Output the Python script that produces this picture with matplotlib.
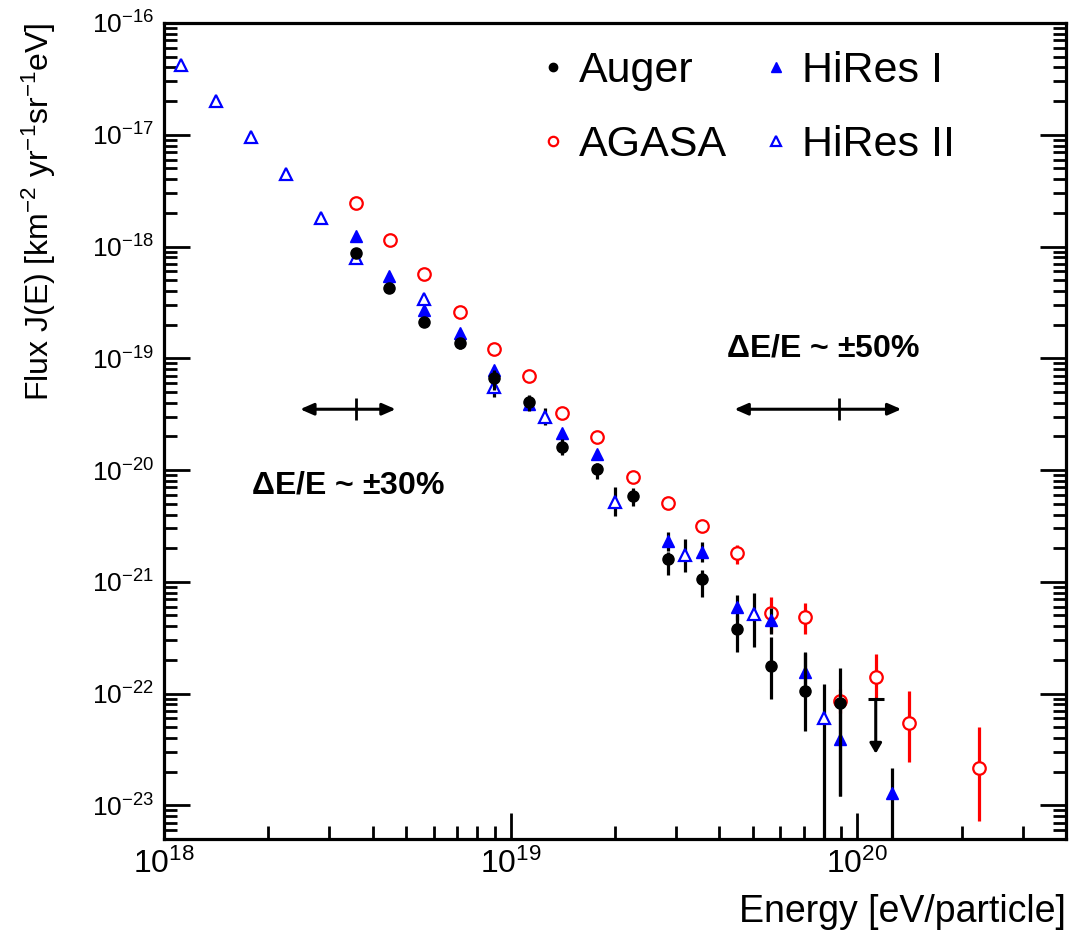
import numpy as np
import matplotlib
matplotlib.use('Agg')
import matplotlib.pyplot as plt
from matplotlib.ticker import FixedLocator, LogLocator, NullFormatter

plt.rcParams['font.family'] = ['Liberation Sans', 'DejaVu Sans']
plt.rcParams['mathtext.default'] = 'regular'
plt.rcParams['axes.unicode_minus'] = False

# --- data (E in eV, flux J and error-bar bounds) ---
auger_E = [3.57e18, 4.47e18, 5.63e18, 7.12e18, 8.94e18, 1.13e19, 1.41e19, 1.78e19,
           2.25e19, 2.84e19, 3.57e19, 4.50e19, 5.64e19, 7.08e19, 8.93e19]
auger_J = [8.7e-19, 4.25e-19, 2.1e-19, 1.36e-19, 6.6e-20, 4.05e-20, 1.6e-20, 1.02e-20,
           5.8e-21, 1.6e-21, 1.05e-21, 3.8e-22, 1.75e-22, 1.05e-22, 8.3e-23]
auger_lo = [8.0e-19, 3.9e-19, 1.9e-19, 1.22e-19, 5.2e-20, 3.4e-20, 1.35e-20, 8.3e-21,
            4.8e-21, 1.15e-21, 7.3e-22, 2.35e-22, 8.9e-23, 4.6e-23, 1.2e-23]
auger_hi = [9.5e-19, 4.6e-19, 2.3e-19, 1.5e-19, 7.8e-20, 4.7e-20, 1.9e-20, 1.15e-20,
            6.9e-21, 1.85e-21, 1.27e-21, 5.0e-22, 3.2e-22, 2.3e-22, 1.7e-22]
auger_ul_E = 1.13e20
auger_ul_J = 8.9e-23
auger_ul_tip = 2.9e-23

agasa_E = [3.57e18, 4.50e18, 5.63e18, 7.12e18, 8.97e18, 1.13e19, 1.41e19, 1.78e19, 2.25e19,
           2.84e19, 3.57e19, 4.50e19, 5.64e19, 7.08e19, 8.93e19, 1.13e20, 1.41e20, 2.25e20]
agasa_J = [2.45e-18, 1.14e-18, 5.66e-19, 2.59e-19, 1.21e-19, 6.91e-20, 3.22e-20, 1.97e-20, 8.62e-21,
           5.05e-21, 3.14e-21, 1.80e-21, 5.22e-22, 4.81e-22, 8.5e-23, 1.40e-22, 5.41e-23, 2.18e-23]
agasa_lo = [2.35e-18, 1.09e-18, 5.4e-19, 2.47e-19, 1.15e-19, 6.5e-20, 3.0e-20, 1.83e-20, 7.9e-21,
            4.5e-21, 2.8e-21, 1.44e-21, 3.46e-22, 3.39e-22, 6.7e-23, 9.2e-23, 2.42e-23, 7.3e-24]
agasa_hi = [2.55e-18, 1.19e-18, 5.9e-19, 2.71e-19, 1.27e-19, 7.3e-20, 3.45e-20, 2.1e-20, 9.4e-21,
            5.6e-21, 3.5e-21, 2.12e-21, 7.3e-22, 6.4e-22, 1.1e-22, 2.24e-22, 1.05e-22, 4.98e-23]

hires1_E = [3.57e18, 4.47e18, 5.63e18, 7.12e18, 8.94e18, 1.13e19, 1.41e19, 1.78e19,
            2.84e19, 3.57e19, 4.50e19, 5.64e19, 7.08e19, 8.93e19, 1.26e20]
hires1_J = [1.24e-18, 5.43e-19, 2.70e-19, 1.68e-19, 7.82e-20, 3.9e-20, 2.13e-20, 1.38e-20,
            2.31e-21, 1.84e-21, 5.91e-22, 4.52e-22, 1.55e-22, 3.89e-23, 1.30e-23]
hires1_lo = [1.18e-18, 5.1e-19, 2.55e-19, 1.58e-19, 7.3e-20, 3.6e-20, 1.95e-20, 1.25e-20,
             1.9e-21, 1.5e-21, 4.6e-22, 3.4e-22, 1.0e-22, 1.2e-23, 1e-25]
hires1_hi = [1.30e-18, 5.75e-19, 2.85e-19, 1.78e-19, 8.4e-20, 4.2e-20, 2.3e-20, 1.5e-20,
             2.8e-21, 2.26e-21, 7.6e-22, 5.8e-22, 2.34e-22, 8.0e-23, 2.18e-23]

hires2_E = [1.12e18, 1.41e18, 1.78e18, 2.25e18, 2.84e18, 3.57e18, 5.63e18, 8.94e18,
            1.26e19, 2.00e19, 3.18e19, 5.04e19, 8.03e19]
hires2_J = [4.21e-17, 2.00e-17, 9.54e-18, 4.45e-18, 1.80e-18, 7.87e-19, 3.38e-19, 5.51e-20,
            2.97e-20, 5.15e-21, 1.73e-21, 5.11e-22, 6.0e-23]
hires2_lo = [4.1e-17, 1.95e-17, 9.3e-18, 4.35e-18, 1.75e-18, 7.6e-19, 3.25e-19, 4.5e-20,
             2.52e-20, 3.85e-21, 1.22e-21, 2.6e-22, 1e-25]
hires2_hi = [4.3e-17, 2.05e-17, 9.8e-18, 4.55e-18, 1.85e-18, 8.1e-19, 3.5e-19, 6.4e-20,
             3.57e-20, 7.0e-21, 2.4e-21, 7.9e-22, 1.23e-22]

# energy resolution arrows: left end, centre tick, right end; label position
res30_E = [2.47e18, 3.57e18, 4.66e18]
res30_label = (3.4e18, 7.3e-21)
res50_E = [4.42e19, 8.87e19, 1.34e20]
res50_label = (7.98e19, 1.23e-19)
res_J = 3.5e-20

x_major = [1e18, 1e19, 1e20]
y_major = [1e-23, 1e-22, 1e-21, 1e-20, 1e-19, 1e-18, 1e-17, 1e-16]


def bars(J, lo, hi):
    J = np.array(J); lo = np.array(lo); hi = np.array(hi)
    return [J - lo, hi - J]


fig = plt.figure(figsize=(10.79, 9.41), dpi=100)
ax = fig.add_axes([0.152, 0.1084, 0.836, 0.8672])
ax.set_xscale('log')
ax.set_yscale('log')

elw = 2.3
# HiRes II (open triangles, black error bars)
ax.errorbar(hires2_E, hires2_J, yerr=bars(hires2_J, hires2_lo, hires2_hi), fmt='none',
            ecolor='black', elinewidth=elw, zorder=2)
h2, = ax.plot(hires2_E, hires2_J, '^', ms=9, mfc='white', mec='blue', mew=1.6, ls='none', zorder=2.5)
# AGASA (open red circles)
ax.errorbar(agasa_E, agasa_J, yerr=bars(agasa_J, agasa_lo, agasa_hi), fmt='none',
            ecolor='red', elinewidth=elw, zorder=3)
ag, = ax.plot(agasa_E, agasa_J, 'o', ms=9, mfc='white', mec='red', mew=1.6, ls='none', zorder=3.5)
# HiRes I (filled triangles)
ax.errorbar(hires1_E, hires1_J, yerr=bars(hires1_J, hires1_lo, hires1_hi), fmt='none',
            ecolor='black', elinewidth=elw, zorder=4)
h1, = ax.plot(hires1_E, hires1_J, '^', ms=9, color='blue', ls='none', zorder=4.5)
# Auger (filled black circles)
ax.errorbar(auger_E, auger_J, yerr=bars(auger_J, auger_lo, auger_hi), fmt='none',
            ecolor='black', elinewidth=elw, zorder=5)
au, = ax.plot(auger_E, auger_J, 'o', ms=8, color='black', ls='none', zorder=5.5)

# Auger upper limit
ax.annotate('', xy=(auger_ul_E, auger_ul_tip), xytext=(auger_ul_E, auger_ul_J),
            arrowprops=dict(arrowstyle='-|>,head_length=0.6,head_width=0.35', color='black',
                            lw=2.2, shrinkA=0, shrinkB=0), zorder=6)
ax.plot(auger_ul_E, auger_ul_J, marker='_', ms=12, mew=2.2, color='black', zorder=6)

# energy resolution arrows
for E3, txt, pos in [(res30_E, r'$\Delta$E/E ~ $\pm$30%', res30_label),
                     (res50_E, r'$\Delta$E/E ~ $\pm$50%', res50_label)]:
    ax.annotate('', xy=(E3[0], res_J), xytext=(E3[2], res_J),
                arrowprops=dict(arrowstyle='<|-|>,head_length=0.8,head_width=0.35', color='black',
                                lw=2.2, shrinkA=0, shrinkB=0))
    ax.plot(E3[1], res_J, marker='|', ms=16, mew=2, color='black')
    ax.text(pos[0], pos[1], txt, fontsize=23, fontweight='bold', ha='center', va='center')

ax.set_xlim(1e18, 4e20)
ax.set_ylim(5e-24, 1e-16)

ax.xaxis.set_major_locator(FixedLocator(x_major))
ax.yaxis.set_major_locator(FixedLocator(y_major))
ax.xaxis.set_minor_locator(LogLocator(base=10, subs=np.arange(2, 10), numticks=50))
ax.yaxis.set_minor_locator(LogLocator(base=10, subs=np.arange(2, 10), numticks=50))
ax.xaxis.set_minor_formatter(NullFormatter())
ax.yaxis.set_minor_formatter(NullFormatter())

ax.tick_params(which='both', direction='in', left=True, right=True, top=False, bottom=True)
ax.tick_params(which='major', length=19, width=2)
ax.tick_params(which='minor', length=9.5, width=2)
ax.tick_params(axis='y', labelsize=19, pad=7)
ax.tick_params(axis='x', labelsize=23, pad=7)
for s in ax.spines.values():
    s.set_linewidth(2.3)

ax.set_ylabel(r'Flux J(E) [km$^{-2}$ yr$^{-1}$sr$^{-1}$eV]', fontsize=23, loc='top')
ax.yaxis.set_label_coords(-0.118, 1.0)
ax.set_xlabel('Energy [eV/particle]', fontsize=27, loc='right')
ax.xaxis.set_label_coords(1.0, -0.068)

leg = ax.legend([au, ag, h1, h2], ['Auger', 'AGASA', 'HiRes I', 'HiRes II'], ncol=2,
                loc='upper left', bbox_to_anchor=(540 / 1079, 1 - 51 / 941),
                bbox_transform=fig.transFigure, frameon=False, fontsize=31,
                handlelength=0.6, handletextpad=0.3, columnspacing=0.85, labelspacing=0.8,
                borderpad=0, borderaxespad=0, markerscale=0.75)

fig.savefig('out.png', dpi=100)
